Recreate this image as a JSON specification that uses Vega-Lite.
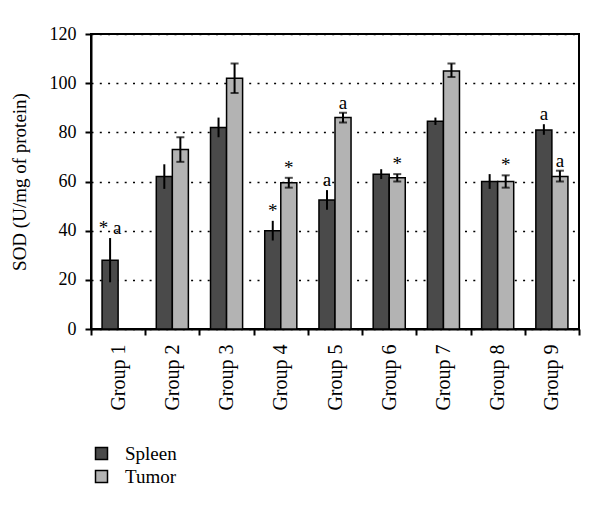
{
  "$schema": "https://vega.github.io/schema/vega-lite/v6.json",
  "width": 488,
  "height": 295,
  "autosize": {"type": "none"},
  "padding": {"left": 91, "top": 34, "right": 21, "bottom": 180},
  "config": {
    "font": "Liberation Serif",
    "view": {"stroke": "black", "strokeWidth": 2},
    "axis": {"domainColor": "black", "domainWidth": 2, "tickColor": "black", "tickWidth": 2, "tickSize": 6, "labelColor": "black", "titleColor": "black", "labelFontSize": 19, "labelPadding": 9}
  },
  "data": {
    "values": [
      {"group": "Group 1", "series": "Spleen", "value": 28, "lo": 19, "hi": 37, "sig": "* a"},
      {"group": "Group 2", "series": "Spleen", "value": 62, "lo": 57, "hi": 67, "sig": ""},
      {"group": "Group 2", "series": "Tumor", "value": 73, "lo": 68, "hi": 78, "sig": ""},
      {"group": "Group 3", "series": "Spleen", "value": 82, "lo": 78, "hi": 86, "sig": ""},
      {"group": "Group 3", "series": "Tumor", "value": 102, "lo": 96, "hi": 108, "sig": ""},
      {"group": "Group 4", "series": "Spleen", "value": 40, "lo": 36, "hi": 44, "sig": "*"},
      {"group": "Group 4", "series": "Tumor", "value": 59.5, "lo": 57.5, "hi": 61.5, "sig": "*"},
      {"group": "Group 5", "series": "Spleen", "value": 52.5, "lo": 48.5, "hi": 56.5, "sig": "a"},
      {"group": "Group 5", "series": "Tumor", "value": 86, "lo": 84, "hi": 88, "sig": "a"},
      {"group": "Group 6", "series": "Spleen", "value": 63, "lo": 61, "hi": 65, "sig": ""},
      {"group": "Group 6", "series": "Tumor", "value": 61.5, "lo": 60, "hi": 63, "sig": "*"},
      {"group": "Group 7", "series": "Spleen", "value": 84.5, "lo": 83, "hi": 86, "sig": ""},
      {"group": "Group 7", "series": "Tumor", "value": 105, "lo": 102.5, "hi": 108, "sig": ""},
      {"group": "Group 8", "series": "Spleen", "value": 60, "lo": 57, "hi": 63, "sig": ""},
      {"group": "Group 8", "series": "Tumor", "value": 60, "lo": 57.5, "hi": 62.5, "sig": "*"},
      {"group": "Group 9", "series": "Spleen", "value": 81, "lo": 79, "hi": 83.3, "sig": "a"},
      {"group": "Group 9", "series": "Tumor", "value": 62, "lo": 60, "hi": 64.4, "sig": "a"}
    ]
  },
  "encoding": {
    "x": {
      "field": "group", "type": "nominal", "sort": null,
      "scale": {"paddingInner": 0, "paddingOuter": 0},
      "axis": {"title": null, "labelAngle": 270, "labelAlign": "right", "labelBaseline": "middle", "tickBand": "extent", "labelFontSize": 20}
    },
    "xOffset": {"field": "series", "type": "nominal", "scale": {"domain": ["Spleen", "Tumor"], "paddingInner": 0, "paddingOuter": 0.69}}
  },
  "layer": [
    {
      "mark": {"type": "bar", "stroke": "black", "strokeWidth": 1.5},
      "encoding": {
        "y": {
          "field": "value", "type": "quantitative",
          "scale": {"domain": [0, 120], "nice": false},
          "axis": {"title": "SOD (U/mg of protein)", "titleFontSize": 19, "titleFontWeight": "normal", "titlePadding": 20, "labelFontSize": 18, "values": [0, 20, 40, 60, 80, 100, 120], "grid": true, "gridColor": "black", "gridDash": [2, 6.3], "gridWidth": 1.5}
        },
        "color": {
          "field": "series", "type": "nominal",
          "scale": {"domain": ["Spleen", "Tumor"], "range": ["#4a4a4a", "#b3b3b3"]},
          "legend": {"title": null, "orient": "none", "legendX": 1, "legendY": 410, "symbolType": "square", "symbolSize": 144, "symbolStrokeColor": "black", "symbolStrokeWidth": 1.5, "labelFontSize": 19, "labelColor": "black", "labelOffset": 14, "rowPadding": 3}
        }
      }
    },
    {
      "mark": {"type": "rule", "color": "black", "strokeWidth": 2},
      "encoding": {
        "y": {"field": "lo", "type": "quantitative"},
        "y2": {"field": "hi"}
      }
    },
    {
      "transform": [{"filter": "datum.series == 'Tumor'"}],
      "mark": {"type": "tick", "color": "black", "size": 8, "thickness": 2},
      "encoding": {"y": {"field": "hi", "type": "quantitative"}}
    },
    {
      "transform": [{"filter": "datum.series == 'Tumor'"}],
      "mark": {"type": "tick", "color": "black", "size": 8, "thickness": 2},
      "encoding": {"y": {"field": "lo", "type": "quantitative"}}
    },
    {
      "transform": [{"filter": "datum.sig != ''"}],
      "mark": {"type": "text", "baseline": "alphabetic", "dy": -4, "fontSize": 19, "color": "black"},
      "encoding": {
        "y": {"field": "hi", "type": "quantitative"},
        "text": {"field": "sig"}
      }
    }
  ]
}
